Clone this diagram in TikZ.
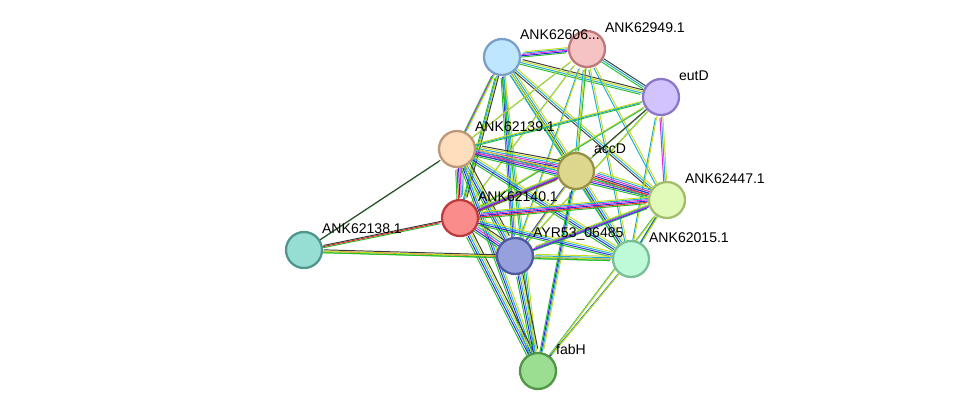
\documentclass[tikz,border=0pt]{standalone}
\usepackage{fontspec}
\setmainfont{Liberation Sans}
\usetikzlibrary{backgrounds}
\definecolor{sgreen}{RGB}{40,190,40}
\definecolor{sred}{RGB}{230,40,40}
\definecolor{sblue}{RGB}{40,40,230}
\definecolor{syellow}{RGB}{200,220,30}
\definecolor{smag}{RGB}{220,40,220}
\definecolor{scyan}{RGB}{30,170,210}
\definecolor{sgrey}{RGB}{60,60,60}
\newcommand{\bundle}[3]{\foreach \c [count=\k] in {#3}{\draw[\c, line width=0.55pt, transform canvas={xshift={(\k-2.5)*0.8pt}, yshift={(\k-2.5)*0.8pt}}] (#1) -- (#2);}}
\begin{document}
\begin{tikzpicture}[x=0.02cm, y=-0.02cm,
  prot/.style={circle, minimum size=0.72cm, line width=1.3pt, inner sep=0pt},
  lbl/.style={font=\fontsize{8}{9}\selectfont, anchor=south west, inner sep=1pt}]
\useasboundingbox (0,0) rectangle (975,417);
% proteins
\node[prot, fill={rgb,255:red,190;green,230;blue,255}, draw={rgb,255:red,120;green,160;blue,200}] (n606) at (502,57) {};
\node[prot, fill={rgb,255:red,245;green,195;blue,195}, draw={rgb,255:red,190;green,120;blue,120}] (n949) at (587,49) {};
\node[prot, fill={rgb,255:red,210;green,195;blue,255}, draw={rgb,255:red,140;green,120;blue,200}] (eutD) at (661,97) {};
\node[prot, fill={rgb,255:red,255;green,222;blue,190}, draw={rgb,255:red,190;green,150;blue,120}] (n139) at (457,149) {};
\node[prot, fill={rgb,255:red,220;green,215;blue,140}, draw={rgb,255:red,150;green,145;blue,70}] (accD) at (576,171) {};
\node[prot, fill={rgb,255:red,225;green,250;blue,185}, draw={rgb,255:red,160;green,190;blue,110}] (n447) at (667,200) {};
\node[prot, fill={rgb,255:red,250;green,140;blue,140}, draw={rgb,255:red,190;green,60;blue,60}] (n140) at (460,218) {};
\node[prot, fill={rgb,255:red,150;green,222;blue,212}, draw={rgb,255:red,80;green,150;blue,140}] (n138) at (304,250) {};
\node[prot, fill={rgb,255:red,150;green,160;blue,220}, draw={rgb,255:red,80;green,90;blue,160}] (ayr) at (515,256) {};
\node[prot, fill={rgb,255:red,190;green,250;blue,215}, draw={rgb,255:red,120;green,190;blue,150}] (n015) at (631,259) {};
\node[prot, fill={rgb,255:red,155;green,222;blue,145}, draw={rgb,255:red,80;green,150;blue,70}] (fabH) at (538,371) {};
% labels
\node[lbl] at (518,42) {ANK62606...};
\node[lbl] at (603,35) {ANK62949.1};
\node[lbl] at (677,83) {eutD};
\node[lbl] at (473,134) {ANK62139.1};
\node[lbl] at (592,156) {accD};
\node[lbl] at (683,186) {ANK62447.1};
\node[lbl] at (476,204) {ANK62140.1};
\node[lbl] at (320,236) {ANK62138.1};
\node[lbl] at (531,242) {AYR53\_06485};
\node[lbl] at (647,245) {ANK62015.1};
\node[lbl] at (554,357) {fabH};
% interactions
\begin{scope}[on background layer]
\bundle{n606}{n949}{sgreen,sblue,smag,scyan,syellow}
\bundle{n606}{eutD}{sgreen,scyan,syellow,sgrey}
\bundle{n949}{eutD}{sgreen,scyan,sgrey}
\bundle{n606}{n139}{sgreen,smag,scyan,syellow}
\bundle{n606}{accD}{sgreen,sgrey,scyan,syellow}
\bundle{n606}{n140}{sgreen,scyan,syellow,sgrey}
\bundle{n606}{ayr}{sgreen,sblue,scyan,syellow}
\bundle{n606}{n447}{sgrey,scyan,syellow}
\bundle{n606}{n015}{scyan,syellow}
\bundle{n606}{fabH}{sgreen,scyan,syellow}
\bundle{n949}{n139}{scyan,syellow}
\bundle{n949}{accD}{scyan,syellow,sgreen}
\bundle{n949}{n140}{scyan,syellow}
\bundle{n949}{ayr}{scyan,syellow}
\bundle{n949}{n447}{scyan,syellow}
\bundle{n949}{n015}{scyan,syellow}
\bundle{eutD}{n139}{sgreen,scyan,syellow}
\bundle{eutD}{accD}{sgreen,scyan,syellow,sgrey}
\bundle{eutD}{n140}{sgreen,scyan,syellow}
\bundle{eutD}{ayr}{sgreen,scyan,syellow}
\bundle{eutD}{n447}{smag,scyan,syellow}
\bundle{eutD}{n015}{scyan,syellow}
\bundle{n139}{accD}{sgreen,sred,sblue,smag,scyan,syellow,sgrey}
\bundle{n139}{n140}{sgreen,sred,sblue,smag,scyan,syellow}
\bundle{n139}{ayr}{sgreen,sblue,scyan,syellow,sgrey}
\bundle{n139}{n447}{sgreen,sblue,smag,scyan,syellow}
\bundle{n139}{n015}{sgreen,sblue,scyan,syellow}
\bundle{n139}{n138}{sgreen,sgrey}
\bundle{n139}{fabH}{sgreen,sblue,scyan,syellow}
\bundle{accD}{n140}{sgreen,sred,sblue,smag,scyan,syellow}
\bundle{accD}{n447}{sgreen,sred,sblue,smag,scyan,syellow}
\bundle{accD}{ayr}{sgreen,sblue,smag,scyan,syellow}
\bundle{accD}{n015}{sgreen,sblue,scyan,syellow}
\bundle{accD}{fabH}{sgreen,sblue,scyan,syellow}
\bundle{n140}{n447}{sgreen,sred,sblue,smag,scyan,syellow}
\bundle{n140}{ayr}{sgreen,sblue,smag,scyan,syellow,sgrey}
\bundle{n140}{n015}{sgreen,sblue,scyan,syellow}
\bundle{n140}{n138}{sgreen,sred,sgrey}
\bundle{n140}{fabH}{sgreen,sblue,scyan,syellow,sgrey}
\bundle{ayr}{n447}{sgreen,sblue,smag,scyan,syellow}
\bundle{ayr}{n015}{sgreen,sblue,scyan,syellow}
\bundle{ayr}{n138}{sgreen,sred,sgrey}
\bundle{ayr}{fabH}{sgreen,sblue,scyan,syellow,sgrey}
\bundle{n447}{n015}{sgreen,sblue,scyan,syellow}
\bundle{n447}{fabH}{sgreen,scyan,syellow}
\bundle{n015}{n138}{sgreen,syellow}
\bundle{n015}{fabH}{sgreen,sblue,scyan,syellow}
\end{scope}
\end{tikzpicture}
\end{document}
